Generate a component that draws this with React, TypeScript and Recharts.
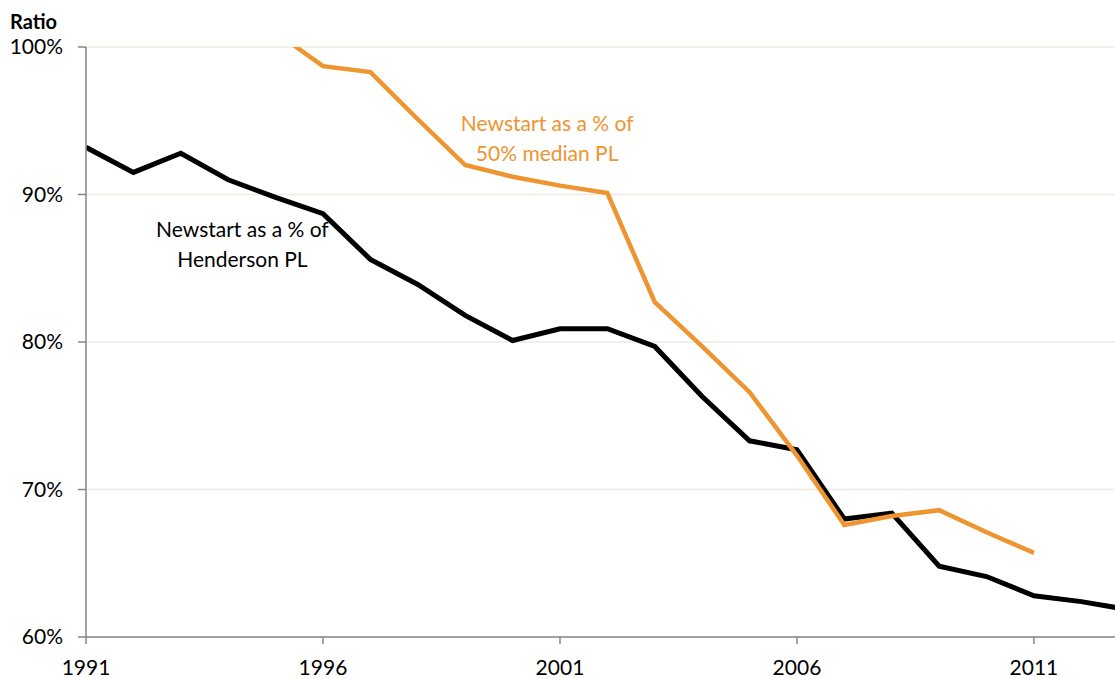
import { LineChart, Line, XAxis, YAxis, CartesianGrid, ReferenceDot } from 'recharts'

const years = [1991, 1992, 1993, 1994, 1995, 1996, 1997, 1998, 1999, 2000, 2001, 2002, 2003, 2004, 2005, 2006, 2007, 2008, 2009, 2010, 2011, 2012, 2013]
const henderson = [93.2, 91.5, 92.8, 91.0, 89.8, 88.7, 85.6, 83.9, 81.8, 80.1, 80.9, 80.9, 79.7, 76.3, 73.3, 72.7, 68.0, 68.4, 64.8, 64.1, 62.8, 62.4, 61.85]
const medianPL = [null, null, null, null, 101.0, 98.7, 98.3, 95.1, 92.0, 91.2, 90.6, 90.1, 82.7, 79.7, 76.6, 72.3, 67.6, 68.2, 68.6, 67.1, 65.7, null, null]
const xTicks = [1991, 1996, 2001, 2006, 2011]
const yTicks = [60, 70, 80, 90, 100]

const FONT = 'Lato, "Open Sans", sans-serif'
const FS = 21
const ORANGE = '#EE9431'

const data = years.map((y, i) => ({ year: y, henderson: henderson[i], median: medianPL[i] ?? undefined }))

function twoLines(lines: string[], color: string) {
  return (props: any) => {
    const { viewBox } = props
    const cx = viewBox.x + (viewBox.width || 0) / 2
    const cy = viewBox.y + (viewBox.height || 0) / 2
    return (
      <text x={cx} y={cy} textAnchor="middle" fill={color} fontSize={FS} fontFamily={FONT}>
        {lines.map((l, i) => (
          <tspan key={i} x={cx} dy={i === 0 ? 0 : 30}>{l}</tspan>
        ))}
      </text>
    )
  }
}

export default function App() {
  return (
    <div style={{ position: 'absolute', left: 0, top: 0, background: '#fff' }}>
      <LineChart width={1115} height={679} data={data} margin={{ top: 47, right: 0, bottom: 0, left: 0 }}>
        <CartesianGrid vertical={false} stroke="#EEECE1" strokeWidth={1.5} />
        <XAxis
          type="number"
          dataKey="year"
          domain={[1991, 2012.71]}
          allowDataOverflow
          ticks={xTicks}
          height={42}
          stroke="#868686"
          strokeWidth={1.5}
          tickSize={7}
          tickMargin={16}
          tick={{ fontSize: FS, fill: '#000', fontFamily: FONT }}
        />
        <YAxis
          type="number"
          domain={[60, 100]}
          allowDataOverflow
          ticks={yTicks}
          width={86}
          stroke="#868686"
          strokeWidth={1.5}
          tickSize={8}
          tickMargin={15}
          tickFormatter={(v: number) => `${v}%`}
          tick={{ fontSize: FS, fill: '#000', fontFamily: FONT }}
          label={{
            content: () => (
              <text x={10} y={29} fontSize={FS - 1} fontWeight="bold" fontFamily={FONT} fill="#000">Ratio</text>
            ),
          }}
        />
        <Line dataKey="henderson" stroke="#000" strokeWidth={5} dot={false} isAnimationActive={false} strokeLinejoin="miter" />
        <Line dataKey="median" stroke={ORANGE} strokeWidth={4.5} dot={false} isAnimationActive={false} strokeLinejoin="miter" />
        <ReferenceDot x={2000.73} y={94.31} r={0} fill="none" stroke="none" label={{ content: twoLines(['Newstart as a % of', '50% median PL'], ORANGE) }} />
        <ReferenceDot x={1994.3} y={87.14} r={0} fill="none" stroke="none" label={{ content: twoLines(['Newstart as a % of', 'Henderson PL'], '#000') }} />
      </LineChart>
    </div>
  )
}
